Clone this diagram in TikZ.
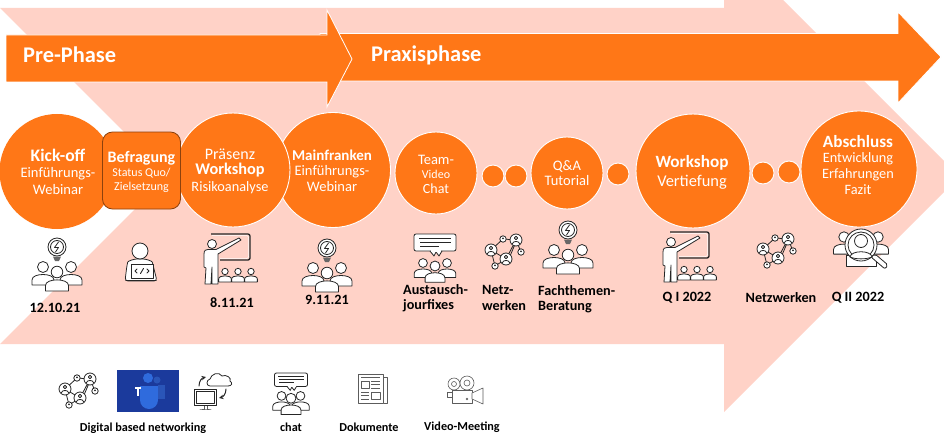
\documentclass[tikz,border=0pt]{standalone}
\usepackage{fontspec}
\setmainfont{Carlito}
\definecolor{org}{HTML}{FF7717}
\definecolor{pnk}{HTML}{FFD2C7}
\definecolor{ink}{HTML}{262626}
\definecolor{teamsbg}{HTML}{1B3A9C}
\definecolor{teamsa}{HTML}{2F6BDD}
\definecolor{teamsb}{HTML}{2A55B8}
\newcommand{\fs}[1]{\fontsize{#1}{#1}\selectfont}
\newcommand{\rg}[2]{{\fs{#1}#2}}
\newcommand{\bd}[2]{{\fs{#1}\bfseries #2}}
\tikzset{
  x=1pt,y=-1pt,
  bigcirc/.style={circle,fill=org,draw=white,line width=0.9pt,inner sep=0pt},
  dotcirc/.style={circle,fill=org,draw=white,line width=0.9pt,inner sep=0pt,minimum size=22pt},
  intext/.style={text=white,align=center,inner sep=0pt},
  captxt/.style={text=black,font=\fs{14.2}\bfseries,inner sep=0pt,align=left},
  smallcap/.style={captxt,font=\fs{12.2}\bfseries},
  phasehead/.style={text=white,font=\fs{22.4}\bfseries,inner sep=0pt,anchor=west},
  ic/.style={draw=ink,line width=0.8pt,fill=white,line join=round},
  icl/.style={draw=ink,line width=0.8pt,line cap=round,line join=round},
  icthin/.style={draw=ink!75,line width=0.6pt,fill=white,line join=round},
  person/.pic={
    \path[ic] (-11,18) -- (-11,13) .. controls (-11,9) and (-5,7.5) .. (0,7.5)
      .. controls (5,7.5) and (11,9) .. (11,13) -- (11,18) -- cycle;
    \path[ic] (0,0) circle (5.5);
  },
  bulbgroup/.pic={
    \path[ic] (0,0) circle (9);
    \path[ic] (0,0) circle (6.5);
    \draw[icl] (1.5,-5) -- (-2.5,0.5) -- (1.5,0.5) -- (-1.5,5);
    \fill[ink!70] (-4,9.5) -- (4,9.5) -- (2,14) -- (-2,14) -- cycle;
    \pic at (-14,20) {person};
    \pic at (14,20) {person};
    \pic[scale=1.05] at (0,25) {person};
  },
  chatgroup/.pic={
    \path[ic,rounded corners=2] (-21,0) rectangle (21,17);
    \path[ic] (-5,17) -- (-1,22) -- (1,18) -- (4,22) -- (7,17);
    \fill[white] (-4,16) rectangle (6,18);
    \draw[ink,line width=1.1pt] (-16,4.5) -- (16,4.5) (-15,8.5) -- (16,8.5) (-15,12.5) -- (4,12.5);
    \pic[scale=.8] at (-12,29) {person};
    \pic[scale=.8] at (12,29) {person};
    \pic[scale=.9] at (0,32) {person};
  },
  netnode/.pic={
    \path[ic] (0,0) circle (6);
    \draw[icl] (0,-2) circle (1.7);
    \draw[icl] (-3.5,3.5) .. controls (-3,0.8) and (3,0.8) .. (3.5,3.5);
  },
  netsmall/.pic={
    \path[ic] (0,0) circle (3.2);
    \fill[ink] (0,-.6) circle (1);
  },
  network/.pic={
    \draw[icl] (0,0) -- (12,-11) -- (25,-10) -- (15,9) -- (0,0) (25,-10) -- (30,2) (15,9) -- (4,16) -- (0,0) (25,-8) -- (19,6);
    \pic at (12,-11) {netsmall};
    \pic at (30,2) {netsmall};
    \pic at (4,16) {netsmall};
    \pic at (0,0) {netnode};
    \pic at (25,-10) {netnode};
    \pic at (15,9) {netnode};
  },
  teacher/.pic={
    \draw[ink,line width=1.3pt,rounded corners=2] (-3,0) -- (36,0) -- (36,26) -- (6,26);
    \draw[white,line width=.5pt,rounded corners=2] (-2,1.6) -- (34.5,1.6) -- (34.5,24.5) -- (6,24.5);
    \path[ic] (-2,50) -- (-2,33) -- (-3,50) -- (-9,50) -- (-8,34) -- (-10,33) -- (-10,20)
       .. controls (-10,16) and (-8,15.5) .. (-6,15.5) -- (2,15.5) -- (25,4) -- (27,6) -- (4,20) -- (4,33) -- (4,50) -- cycle;
    \path[ic] (-2,10) circle (4.5);
    \pic[scale=.58] at (11,37.5) {person};
    \pic[scale=.58] at (24,37.5) {person};
    \pic[scale=.58] at (37,37.5) {person};
  }
}
\begin{document}
\begin{tikzpicture}
\useasboundingbox (0,0) rectangle (944,433);
\clip (0,0) rectangle (944,433);
% background arrow
\fill[pnk] (0,8) -- (724,8) -- (724,-59) -- (959.5,176.5) -- (724,412) -- (724,344) -- (0,344) -- (168,176) -- cycle;
% phase arrows
\path[fill=org,draw=white,line width=.8pt] (320,33.5) -- (898,33.5) -- (898,12) -- (941,57) -- (898,103) -- (898,81) -- (320,81) -- cycle;
\path[fill=org,draw=white,line width=.8pt] (6,35) -- (327,35) -- (327,10) -- (352,59) -- (327,107) -- (327,82) -- (6,82) -- cycle;
\node[phasehead] (prephase) at (23,55) {Pre-Phase};
\node[phasehead] (praxisphase) at (371,55) {Praxisphase};
% circles
\node[bigcirc,minimum size=115pt,draw=none] (kick) at (57,171.5) {};
\node[bigcirc,minimum size=115pt] (main) at (333,170) {};
\node[bigcirc,minimum size=114pt] (praes) at (233,170) {};
\node[draw=black!45!org,fill=org,line width=.8pt,rounded corners=10pt,minimum width=78pt,minimum height=77pt,inner sep=0pt] (befr) at (141.5,170.5) {};
\node[bigcirc,minimum size=82pt] (team) at (436,173) {};
\node[dotcirc] (d1) at (493,176) {};
\node[dotcirc] (d2) at (516,176) {};
\node[bigcirc,minimum size=72pt] (qa) at (567,173) {};
\node[dotcirc] (d3) at (618,174) {};
\node[bigcirc,minimum size=114pt] (work) at (693,171) {};
\node[dotcirc] (d4) at (763,173) {};
\node[dotcirc] (d5) at (789,172) {};
\node[bigcirc,minimum size=116pt] (absch) at (859,169) {};
% circle text
\node[intext] (kickT) at (58,172) {\bd{17.6}{Kick-off}\\[4pt]\rg{14.5}{Einführungs-}\\[3.5pt]\rg{14.5}{Webinar}};
\node[intext] (befrT) at (141.5,172) {\bd{16}{Befragung}\\[2.5pt]\rg{12}{Status Quo/}\\[2pt]\rg{12}{Zielsetzung}};
\node[intext] (praesT) at (230,171) {\rg{16}{Präsenz}\\[3pt]\bd{16.3}{Workshop}\\[3.5pt]\rg{14.3}{Risikoanalyse}};
\node[intext] (mainT) at (332,171) {\bd{15}{Mainfranken}\\[3pt]\rg{14.5}{Einführungs-}\\[2pt]\rg{14.5}{Webinar}};
\node[intext] (teamT) at (436,174) {\rg{14.5}{Team-}\\[2pt]\rg{12}{Video}\\[3pt]\rg{14}{Chat}};
\node[intext] (qaT) at (567,173.5) {\rg{14.5}{Q\&A}\\[3pt]\rg{14.5}{Tutorial}};
\node[intext] (workT) at (692,172) {\bd{17.2}{Workshop}\\[4pt]\rg{16.4}{Vertiefung}};
\node[intext] (abschT) at (858,165) {\bd{17.2}{Abschluss}\\[3pt]\rg{14.3}{Entwicklung}\\[2.5pt]\rg{14.3}{Erfahrungen}\\[2.5pt]\rg{14.3}{Fazit}};
% icons
\pic at (57,247) {bulbgroup};
\pic at (327,248) {bulbgroup};
\pic at (568,230) {bulbgroup};
% coder
\path[ic,rounded corners=3] (125,281) -- (127,265) .. controls (128,261) and (134,259) .. (140,259) .. controls (146,259) and (152,261) .. (153,265) -- (157,281) -- cycle;
\path[ic] (140,251) circle (8);
\path[ic] (131,264) rectangle (153,278);
\draw[icl,line width=.9pt] (137,269) -- (135,271) -- (137,273) (147,269) -- (149,271) -- (147,273) (143.5,268.5) -- (140.5,273.5);
\draw[icl,line width=1.2pt] (126,280.5) -- (156,280.5);
\pic at (214,234) {teacher};
\pic at (673,232) {teacher};
\pic at (435,234) {chatgroup};
\pic at (491,250) {network};
\pic at (763,249) {network};
% magnifier group
\pic[scale=.95] at (844,237) {person};
\pic[scale=.95] at (878,237) {person};
\path[ic] (846,266) -- (846,255) -- (876,255) -- (876,266) -- cycle;
\path[ic] (861,245) circle (16);
\path[ic] (861,245) circle (13);
\path[ic] (850,257) .. controls (851,250) and (871,250) .. (872,257) .. controls (866,259.5) and (856,259.5) .. (850,257) -- cycle;
\path[ic] (861,241) circle (6.5);
\path[ic,rounded corners=2] (871,257) -- (875,254) -- (888,265) -- (885,269) -- cycle;
% bottom row
\pic at (65,389) {network};
\fill[teamsbg] (117,370) rectangle (179,412);
\fill[teamsa] (140,386) rectangle (158,400);
\fill[teamsa] (149,400) circle (9);
\fill[teamsa] (148,378) circle (5);
\fill[teamsb] (157,380) circle (3.5);
\fill[teamsb] (158,385) rectangle (165,399);
\draw[white,line width=1.3pt] (135,388) -- (141,388) (138,388) -- (138,396);
% monitor & cloud
\path[icthin] (204,405) -- (204,409) -- (200,409) -- (211,409) -- (207,409) -- (207,405);
\path[icthin,draw=ink,line width=.8pt] (194,389) rectangle (216,405);
\path[icthin,draw=ink,line width=.5pt] (196,391) rectangle (214,403);
\path[icthin,draw=ink,line width=.8pt] (210,386) .. controls (206,386) and (206,380) .. (210,379) .. controls (211,374) and (219,371) .. (222,376) .. controls (226,374) and (232,378) .. (230,381) .. controls (233,383) and (232,386) .. (228,386) -- cycle;
\draw[icl,line width=1pt,->,>=stealth] (199,386) .. controls (199,381) and (202,378) .. (206,377);
\draw[icl,line width=1pt,->,>=stealth] (226,389) .. controls (226,394) and (223,397) .. (219,398);
% small chat
\pic[scale=.79] at (291,373) {chatgroup};
% newspaper
\path[icthin] (384,377) -- (387,377) -- (387,403) -- (384,403);
\path[icthin] (358,374) rectangle (383,403);
\draw[ink!75,line width=.6pt] (361,377) -- (380,377);
\path[icthin] (361,381) rectangle (369,388);
\path[icthin] (371,392) rectangle (380,399);
\draw[ink!75,line width=.6pt] (371,381) -- (380,381) (371,384.5) -- (380,384.5) (371,388) -- (380,388) (361,392) -- (369,392) (361,395.5) -- (369,395.5) (361,399) -- (369,399);
% camera
\path[icthin] (452,390) rectangle (472,403);
\path[icthin] (472,393) -- (483,388) -- (483,404) -- (472,399) -- cycle;
\path[icthin] (447,392) rectangle (452,397);
\path[icthin] (454,384) circle (6);
\path[icthin] (467,383) circle (7);
\path[icthin] (454,384) circle (2.5);
\path[icthin] (467,383) circle (3);
\path[icthin] (467,399) circle (1);
% captions
\node[captxt] (l1) at (55,308) {12.10.21};
\node[captxt] (l2) at (232,303) {8.11.21};
\node[captxt] (l3) at (327,300) {9.11.21};
\node[captxt,anchor=north west] (l4) at (403,284) {Austausch-\\[1pt]jourfixes};
\node[captxt,anchor=north west] (l5) at (482,285) {Netz-\\[2pt]werken};
\node[captxt,anchor=north west] (l6) at (538,285) {Fachthemen-\\[1pt]Beratung};
\node[captxt] (l7) at (687,298) {Q I 2022};
\node[captxt] (l8) at (781,298) {Netzwerken};
\node[captxt] (l9) at (858,298) {Q II 2022};
\node[smallcap] (b1) at (143,428) {Digital based networking};
\node[smallcap] (b2) at (291,427) {chat};
\node[smallcap] (b3) at (369,427) {Dokumente};
\node[smallcap] (b4) at (462,427) {Video-Meeting};
\end{tikzpicture}
\end{document}
